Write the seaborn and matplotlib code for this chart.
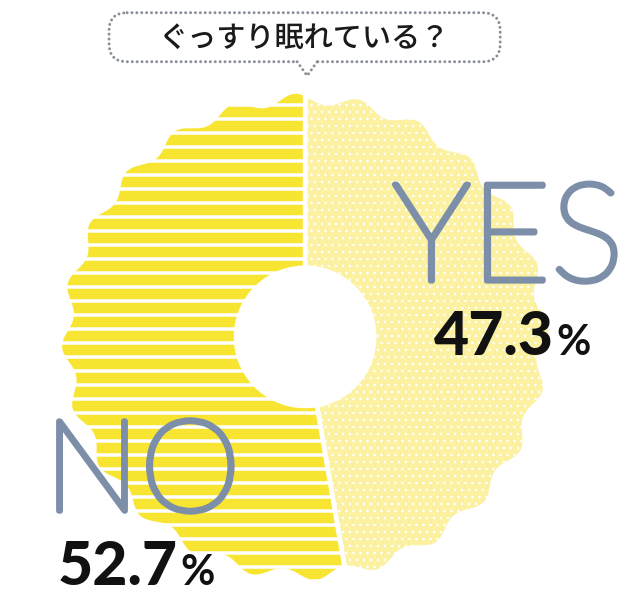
import numpy as np
import matplotlib
matplotlib.use("Agg")
import matplotlib.pyplot as plt
import matplotlib.patheffects as pe
import seaborn as sns
from matplotlib.patches import Polygon, FancyBboxPatch, Rectangle

# data
labels = ["YES", "NO"]
shares = [47.3, 52.7]
colors = ["#FBF1A0", "#F8E532"]
hatches = ["..", "-"]
question = "ぐっすり眠れている？"

sns.set_theme(style="white")
plt.rcParams["font.family"] = ["Lato", "Noto Sans CJK JP", "DejaVu Sans"]

DPI = 84
fig = plt.figure(figsize=(640.3 / DPI, 612.3 / DPI), dpi=DPI, facecolor="white")
ax = fig.add_axes([0, 0, 1, 1])
ax.set_xlim(0, 640)
ax.set_ylim(612, 0)
ax.axis("off")

# wavy donut
cx, cy = 305, 337
r_out, r_in, amp, n_wave = 240, 69, 5.5, 24
bounds = 90 - 360 * np.cumsum([0] + shares) / 100
hatch_lw = [1.0, 3.0]
for i, lab in enumerate(labels):
    plt.rcParams["hatch.linewidth"] = hatch_lw[i]
    t = np.linspace(np.radians(bounds[i]), np.radians(bounds[i + 1]), 600)
    ro = r_out + amp * np.sin(n_wave * t + 0.6)
    outer = np.c_[cx + ro * np.cos(t), cy - ro * np.sin(t)]
    inner = np.c_[cx + r_in * np.cos(t[::-1]), cy - r_in * np.sin(t[::-1])]
    ax.add_patch(Polygon(np.vstack([outer, inner]), closed=True,
                         facecolor=colors[i], edgecolor="white", lw=4,
                         hatch=hatches[i], zorder=1))

# labels (thin face thickened with a stroke)
label_col = "#7D8EA8"
thick = [pe.withStroke(linewidth=4.8, foreground=label_col)]
ax.text(392, 281, "YES", fontsize=118, color=label_col, fontweight=100,
        ha="left", va="baseline", zorder=3, path_effects=thick)
ax.text(44, 511, "NO", fontsize=110, color=label_col, fontweight=100,
        ha="left", va="baseline", zorder=3, path_effects=thick)

for x, y, s in [(434, 355, shares[0]), (58, 585, shares[1])]:
    t = ax.text(x, y, f"{s:.1f}", fontsize=52, fontweight="black",
                color="#111111", ha="left", va="baseline", zorder=3)
    ax.annotate("%", xy=(1, 0), xycoords=t, xytext=(2, 3),
                textcoords="offset points", fontsize=36, fontweight="bold",
                color="#111111", ha="left", va="bottom", zorder=3)

# title bubble
dot_ls = (0, (0.01, 1.6))
box = FancyBboxPatch((109, 13), 391, 49, boxstyle="round,pad=0,rounding_size=18",
                     fill=False, edgecolor="#8A9099", lw=2.6,
                     linestyle=dot_ls, capstyle="round", zorder=4)
ax.add_patch(box)
ax.add_patch(Rectangle((297, 57), 20, 10, facecolor="white", edgecolor="none", zorder=5))
ax.plot([297, 307, 317], [62, 76, 62], color="#8A9099", lw=2.6,
        linestyle=dot_ls, dash_capstyle="round", zorder=6)
ax.text(304, 38, question, ha="center", va="center", fontsize=25,
        family=["Noto Sans CJK JP", "DejaVu Sans"], fontweight="medium",
        color="#1A1A1A", zorder=6)

fig.savefig("out.png", dpi=DPI, facecolor="white")
